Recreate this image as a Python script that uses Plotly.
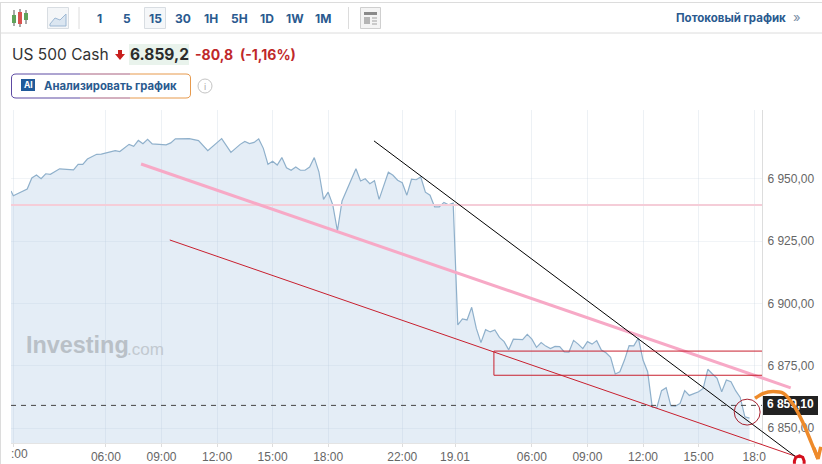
import plotly.graph_objects as go

W, H = 822, 464
L, R, T, B = 11, 762, 110, 443

# --- data -----------------------------------------------------------------
bars = [-0.5, 0, 3, 4, 5, 6, 7, 8, 10, 13, 14, 15, 16, 18, 19, 22, 23, 25, 26, 27, 28, 29, 30,
        33, 34, 35, 38, 40, 42, 45, 47, 49, 50, 51, 52, 53, 54, 55, 56, 57, 58, 59, 60, 61, 62,
        63, 64, 65, 66, 67, 68, 69, 70, 71, 74, 75, 76, 77, 78, 79, 81, 82, 83, 84, 85, 86, 87,
        88, 89, 90, 91, 92, 93, 94, 95, 96, 97, 98, 99, 100, 101, 102, 103, 104, 105, 106, 107,
        108, 110, 111, 112, 113, 114, 115, 116, 117, 118, 119, 120, 121, 122, 123, 124, 125,
        126, 127, 128, 129, 130, 131, 132, 133, 134, 135, 136, 137, 138, 139, 140, 141, 142,
        143, 144, 145, 146, 147, 148, 149, 150, 151, 152, 153, 154, 155, 156, 157, 158, 159]
prices = [6945.2, 6943.3, 6946.0, 6950.4, 6951.6, 6950.1, 6952.1, 6951.9, 6954.1, 6953.7, 6955.9,
          6955.9, 6958.0, 6959.9, 6960.0, 6961.4, 6961.0, 6963.9, 6963.1, 6965.5, 6964.2, 6965.9,
          6964.1, 6963.7, 6964.5, 6966.1, 6966.2, 6965.4, 6961.4, 6966.2, 6960.7, 6963.9, 6965.1,
          6964.2, 6964.7, 6966.1, 6962.3, 6955.9, 6957.1, 6955.6, 6958.6, 6954.5, 6953.5, 6954.8,
          6953.5, 6953.5, 6954.8, 6958.6, 6952.9, 6941.8, 6944.7, 6939.6, 6929.2, 6941.2, 6954.1,
          6949.2, 6950.1, 6948.1, 6949.3, 6941.8, 6952.7, 6951.5, 6949.5, 6948.5, 6943.5, 6949.9,
          6949.7, 6950.8, 6944.7, 6943.5, 6938.8, 6938.8, 6940.6, 6939.6, 6940.3, 6891.4, 6893.8,
          6893.4, 6898.5, 6890.0, 6884.3, 6889.5, 6888.6, 6889.4, 6886.4, 6884.7, 6881.4, 6885.7,
          6885.5, 6887.6, 6885.7, 6882.4, 6884.3, 6882.9, 6881.9, 6882.8, 6882.7, 6880.6, 6880.5,
          6885.2, 6883.7, 6881.9, 6884.7, 6883.7, 6885.1, 6881.3, 6880.2, 6878.4, 6871.7, 6872.6,
          6877.3, 6883.1, 6883.0, 6886.1, 6877.3, 6872.6, 6858.3, 6858.3, 6865.0, 6866.2, 6859.0,
          6858.8, 6859.9, 6865.0, 6863.1, 6863.7, 6864.6, 6865.9, 6873.6, 6871.7, 6870.0, 6864.6,
          6869.3, 6868.6, 6865.0, 6862.3, 6854.5, 6854.0, 6858.6]

x_tick_bars = [0, 20, 32, 44, 56, 68, 84, 95.4, 112, 124, 136, 148, 160]
x_tick_labels = ["", "06:00", "09:00", "12:00", "15:00", "18:00", "22:00", "19.01",
                 "06:00", "09:00", "12:00", "15:00", "18:0"]
y_tick_prices = [6850, 6875, 6900, 6925, 6950]
y_tick_labels = ["6 850,00", "6 875,00", "6 900,00", "6 925,00", "6 950,00"]

x_range = [-0.5, 161.7]
y_range = [6844.0, 6977.7]
# the same scales continued to the edges of the picture, for the lines drawn by hand
x_range_full = [-2.87, 174.66]
y_range_full = [6835.5, 7021.9]

last_price = 6859.1
last_label = "6 859,10"
level_price = 6939.6

pink_bars = [27.6, 167.9]
pink_prices = [6956.0, 6866.1]
red_bars = [33.8, 169.9]
red_prices = [6925.5, 6838.0]
black_bars = [77.9, 169.0]
black_prices = [6965.3, 6838.4]
box_bars = [103.8, 161.8]
box_prices = [6871.2, 6880.9]
ring_bars = [155.7, 161.3]
ring_prices = [6851.2, 6861.6]
orange_bars = [160.2, 162.0, 164.1, 166.3, 168.5, 170.6, 172.4, 173.8]
orange_prices = [6861.9, 6863.9, 6864.6, 6863.9, 6859.2, 6851.9, 6843.9, 6837.6]
barb_bars = [172.9, 173.8, 174.4]
barb_prices = [6842.0, 6837.6, 6842.4]
stop_bars = [168.7, 168.7, 169.0, 169.8, 170.5, 170.8, 170.8]
stop_prices = [6835.6, 6836.7, 6838.2, 6838.8, 6838.2, 6836.7, 6835.6]

# --- helpers: page pixels to paper fractions --------------------------------
def px(x):
    return x / W

def py(y):
    return 1 - y / H

shapes = []
annos = []

def rect(x0, y0, x1, y1, fill="rgba(0,0,0,0)", line="rgba(0,0,0,0)", w=1, layer="above"):
    shapes.append(dict(type="rect", xref="paper", yref="paper", x0=px(x0), x1=px(x1), y0=py(y0), y1=py(y1),
                       fillcolor=fill, line=dict(color=line, width=w), layer=layer))

def seg(x0, y0, x1, y1, color, w=1):
    shapes.append(dict(type="line", xref="paper", yref="paper", x0=px(x0), x1=px(x1), y0=py(y0), y1=py(y1),
                       line=dict(color=color, width=w), layer="above"))

def text(x, y, s, size=12, color="#333", anchor="left", family="Inter", weight=None):
    # placed on the full-size axes; left-anchored boxes carry about 2px of padding
    t = f"<b>{s}</b>" if weight else s
    if anchor == "left":
        x -= 2
    ax = x_range_full[0] + px(x) * (x_range_full[1] - x_range_full[0])
    ay = y_range_full[0] + py(y) * (y_range_full[1] - y_range_full[0])
    annos.append(dict(xref="x2", yref="y2", x=ax, y=ay, text=t, showarrow=False, xanchor=anchor,
                      yanchor="middle", font=dict(size=size, color=color, family=family)))

BLUE = "#2a5a8f"
GREY = "#dcdcdc"

# frame of the widget
seg(0, 2.5, W, 2.5, GREY, 1)
seg(0, 33, W, 33, GREY, 1)
seg(0.5, 3, 0.5, H, GREY, 1)

# candlestick icon
for cx, top, bot, b0, b1, c in [(14, 10, 26, 15, 23, "#5fa35a"), (20, 9, 27, 12, 24, "#d9534f"), (26, 10, 24, 13, 20, "#5fa35a")]:
    seg(cx, top, cx, bot, "#555", 1)
    rect(cx - 2, b0, cx + 2, b1, fill=c)
# area icon
rect(47.5, 7.5, 68.5, 28.5, fill="#f4f6f8", line="#d8dde2")
shapes.append(dict(type="path", xref="paper", yref="paper", layer="above",
                   path=f"M {px(50)} {py(24)} L {px(55)} {py(18)} L {px(60)} {py(20)} L {px(66)} {py(14)} L {px(66)} {py(26)} L {px(50)} {py(26)} Z",
                   fillcolor="#dbe6f1", line=dict(color="#9db8d3", width=1)))
seg(79, 7, 79, 29, GREY, 1)
seg(348.5, 7, 348.5, 29, GREY, 1)
rect(144.5, 7.5, 165.5, 28.5, fill="#f5f7f9", line="#d8dde2")
for cx, s in [(99, "1"), (127, "5"), (155, "15"), (183, "30"), (211, "1H"), (239, "5H"), (267, "1D"), (295, "1W"), (323, "1M")]:
    text(cx, 18, s, 12, BLUE, "center", weight=True)
# news icon
rect(360.5, 7.5, 380.5, 28.5, fill="#f4f4f4", line="#cfcfcf")
rect(364, 12, 377, 15, fill="#8a8a8a")
rect(364, 17, 370, 24, fill="#b5b5b5")
seg(372, 18, 377, 18, "#a0a0a0", 1)
seg(372, 21, 377, 21, "#a0a0a0", 1)
seg(372, 24, 377, 24, "#a0a0a0", 1)

text(675.5, 18, "Потоковый график", 11.5, BLUE, weight=True)
text(793, 17, "»", 13, "#7a8ea5")

# quote row
text(11.5, 54.5, "US 500 Cash", 15.5, "#333")
shapes.append(dict(type="path", xref="paper", yref="paper", layer="above",
                   path=f"M {px(118)} {py(50)} L {px(122)} {py(50)} L {px(122)} {py(54)} L {px(125)} {py(54)} L {px(120)} {py(60)} L {px(115)} {py(54)} L {px(118)} {py(54)} Z",
                   fillcolor="#c8201e", line=dict(color="#c8201e", width=0)))
rect(129, 44, 189, 65, fill="#e9f3ec")
text(130, 54.5, "6.859,2", 15.5, "#2b2b2b", weight=True)
text(195, 54.5, "-80,8", 14, "#c0282a", weight=True)
text(239.5, 54.5, "(-1,16%)", 14, "#c0282a", weight=True)

# AI button: border runs from violet on the left to orange on the right
rad = 4
shapes.append(dict(type="path", xref="paper", yref="paper", layer="above",
                   path=f"M {px(80)} {py(74)} L {px(12+rad)} {py(74)} Q {px(11.5)} {py(74)} {px(11.5)} {py(74+rad)} L {px(11.5)} {py(98-rad)} Q {px(11.5)} {py(98)} {px(12+rad)} {py(98)} L {px(80)} {py(98)}",
                   line=dict(color="#5d4aa3", width=1)))
seg(80, 74, 130, 74, "#a8607f", 1)
seg(80, 98, 130, 98, "#a8607f", 1)
shapes.append(dict(type="path", xref="paper", yref="paper", layer="above",
                   path=f"M {px(130)} {py(74)} L {px(190-rad)} {py(74)} Q {px(190.5)} {py(74)} {px(190.5)} {py(74+rad)} L {px(190.5)} {py(98-rad)} Q {px(190.5)} {py(98)} {px(190-rad)} {py(98)} L {px(130)} {py(98)}",
                   line=dict(color="#e79a4d", width=1)))
rect(21, 79, 35, 91, fill="#1f5a9a")
text(28, 85, "AI", 8.5, "white", "center", weight=True)
text(44, 86, "Анализировать график", 11.3, BLUE, weight=True)
shapes.append(dict(type="circle", xref="paper", yref="paper", x0=px(198), x1=px(212), y0=py(79), y1=py(93),
                   line=dict(color="#c4c4c4", width=1), layer="above"))
text(205, 86, "i", 9, "#aaaaaa", "center")

# watermark
text(26, 345, "Investing", 23.4, "#b9c0c7", family="Liberation Sans", weight=True)
text(127, 349, ".com", 17, "#c2c9d0", family="Liberation Sans")

# label of the first, cut-off time tick
text(11, 454, ":00", 12, "#666", family="Liberation Sans")

# last-price flag sits under the traces so that the drawn arrow can cover it
rect(762, 396, 818, 415, fill="#222222", layer="below")

# box and ring drawn on the price scale
shapes.append(dict(type="rect", xref="x", yref="y", x0=box_bars[0], x1=box_bars[1], y0=box_prices[0], y1=box_prices[1],
                   line=dict(color="#c8202f", width=1), layer="above"))
shapes.append(dict(type="circle", xref="x", yref="y", x0=ring_bars[0], x1=ring_bars[1], y0=ring_prices[0], y1=ring_prices[1],
                   fillcolor="rgba(0,0,0,0)", line=dict(color="#a8222f", width=1), layer="above"))

fig = go.Figure()
fig.add_trace(go.Scatter(x=bars, y=prices, mode="lines", fill="tozeroy", fillcolor="rgba(170,200,228,0.32)",
                         line=dict(color="#8fb0cb", width=1.2)))
fig.add_trace(go.Scatter(x=x_range, y=[level_price, level_price], mode="lines",
                         line=dict(color="#f5cdd8", width=2)))
fig.add_trace(go.Scatter(x=x_range, y=[last_price, last_price], mode="lines",
                         line=dict(color="#444444", width=1, dash="5px,5px")))
over = dict(xaxis="x2", yaxis="y2", cliponaxis=True)
fig.add_trace(go.Scatter(x=pink_bars, y=pink_prices, mode="lines", line=dict(color="#f7a9c6", width=3), **over))
fig.add_trace(go.Scatter(x=red_bars, y=red_prices, mode="lines", line=dict(color="#c8202f", width=1), **over))
fig.add_trace(go.Scatter(x=black_bars, y=black_prices, mode="lines", line=dict(color="#000000", width=1), **over))
fig.add_trace(go.Scatter(x=[167.8], y=[last_price], mode="text", text=[f"<b>{last_label}</b>"],
                         textposition="middle center",
                         textfont=dict(color="white", size=12, family="Liberation Sans"), **over))
fig.add_trace(go.Scatter(x=stop_bars, y=stop_prices, mode="lines", line=dict(color="#d40f1c", width=3), **over))
fig.add_trace(go.Scatter(x=orange_bars, y=orange_prices, mode="lines",
                         line=dict(color="#ee8a2a", width=3.5, shape="spline"), **over))
fig.add_trace(go.Scatter(x=barb_bars, y=barb_prices, mode="lines", line=dict(color="#ee8a2a", width=3.5), **over))

fig.update_layout(
    width=W, height=H, autosize=False, showlegend=False,
    paper_bgcolor="white", plot_bgcolor="rgba(0,0,0,0)",
    margin=dict(l=0, r=0, t=0, b=0, pad=0, autoexpand=False),
    shapes=shapes, annotations=annos,
    xaxis=dict(domain=[L / W, R / W], range=x_range, tickmode="array", tickvals=x_tick_bars, ticktext=x_tick_labels,
               showgrid=True, gridcolor="rgba(190,205,220,0.28)", gridwidth=1, zeroline=False,
               showline=True, linecolor="#e4e4e4", linewidth=1, anchor="y", automargin=False,
               ticks="outside", ticklen=3, tickcolor="#dddddd", tickangle=0,
               tickfont=dict(size=12, color="#666666", family="Liberation Sans"), layer="below traces"),
    yaxis=dict(domain=[1 - B / H, 1 - T / H], range=y_range, side="right", tickmode="array",
               tickvals=y_tick_prices, ticktext=y_tick_labels, anchor="x", ticklabelstandoff=2, automargin=False,
               showgrid=True, gridcolor="rgba(190,205,220,0.22)", gridwidth=1, zeroline=False,
               showline=True, linecolor="#dddddd", linewidth=1, ticks="",
               tickfont=dict(size=12, color="#666666", family="Liberation Sans"), layer="below traces"),
    xaxis2=dict(domain=[0, 1], range=x_range_full, visible=False, anchor="y2"),
    yaxis2=dict(domain=[0, 1], range=y_range_full, visible=False, anchor="x2"),
)
fig.write_html("out.html", config=dict(displayModeBar=False),
               post_script=("document.documentElement.style.cssText='margin:0;overflow:hidden;width:822px;height:464px';"
                            "document.body.style.cssText='margin:0;overflow:hidden;width:822px;height:464px';"
                            "document.querySelectorAll('body>div,.plotly-graph-div,.svg-container').forEach("
                            "function(e){e.style.overflow='hidden';e.style.width='822px';e.style.height='464px';});"))
